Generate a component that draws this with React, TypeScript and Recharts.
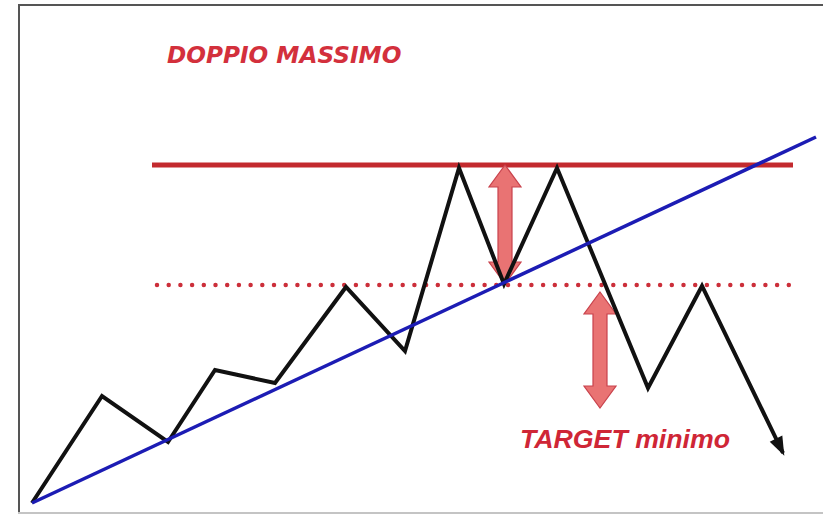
import React from "react";
import { ComposedChart, Line, XAxis, YAxis, ReferenceLine } from "recharts";

// price path (time, price)
const priceT = [3.2, 10.2, 16.8, 21.5, 27.5, 34.6, 40.5, 45.9, 50.4, 55.7, 64.8, 70.2, 78.3];
const priceV = [2.6, 24, 14.8, 29.2, 26.6, 45.8, 33, 69.6, 46.4, 69.6, 25.6, 46, 12.6];

// rising trendline
const trendT = [3.2, 81.6];
const trendV = [2.6, 75.8];

// horizontal levels
const massimo = 70.2;
const neckline = 46.2;
const massimoRange = [15.2, 79.3];
const necklineRange = [15.7, 79.6];

// measured moves: [time, from, to]
const heightMove = [50.5, 70.2, 46.4];
const targetMove = [60, 44.8, 21.6];

const W = 823;
const H = 516;

const priceData = priceT.map((t, i) => ({ t, v: priceV[i] }));
const trendData = trendT.map((t, i) => ({ t, v: trendV[i] }));
const massimoData = massimoRange.map((t) => ({ t, v: massimo }));
const necklineData = necklineRange.map((t) => ({ t, v: neckline }));

const DoubleArrow = (props: any) => {
  const { x1, y1, y2 } = props;
  const top = Math.min(y1, y2);
  const bot = Math.max(y1, y2);
  const hw = 16, hl = 22, sw = 7;
  const x = x1;
  const pts = [
    [x, top], [x + hw, top + hl], [x + sw, top + hl], [x + sw, bot - hl], [x + hw, bot - hl],
    [x, bot], [x - hw, bot - hl], [x - sw, bot - hl], [x - sw, top + hl], [x - hw, top + hl],
  ].map((p) => p.join(",")).join(" ");
  return <polygon points={pts} fill="#e97373" stroke="#c9424c" strokeWidth={1.2} />;
};

const ArrowDot = (props: any) => {
  const { cx, cy, index, points } = props;
  if (index !== priceT.length - 1 || !points || !points[index - 1]) return <g key={`d${index}`} />;
  const prev = points[index - 1];
  const a = Math.atan2(cy - prev.y, cx - prev.x);
  const len = 16, half = 7;
  const bx = cx - Math.cos(a) * len;
  const by = cy - Math.sin(a) * len;
  const px = -Math.sin(a) * half;
  const py = Math.cos(a) * half;
  const pts = `${cx + Math.cos(a) * 3},${cy + Math.sin(a) * 3} ${bx + px},${by + py} ${bx - px},${by - py}`;
  return <polygon key={`d${index}`} points={pts} fill="#111" />;
};

export default function App() {
  return (
    <div style={{ position: "absolute", left: 0, top: 0, width: W, height: H, background: "#fff" }}>
      <ComposedChart width={W} height={H} margin={{ top: 0, right: 0, bottom: 0, left: 0 }}>
        <XAxis dataKey="t" type="number" domain={[0, W / 10]} hide allowDataOverflow />
        <YAxis type="number" domain={[0, H / 5]} hide allowDataOverflow />
        <Line data={massimoData} dataKey="v" stroke="#c32a2e" strokeWidth={5} dot={false} activeDot={false}
          isAnimationActive={false} />
        <Line data={necklineData} dataKey="v" stroke="#cc2f3a" strokeWidth={4.5} strokeDasharray="0 11.7"
          strokeLinecap="round" dot={false} activeDot={false} isAnimationActive={false} />
        <ReferenceLine segment={[{ x: heightMove[0], y: heightMove[1] }, { x: heightMove[0], y: heightMove[2] }]}
          shape={DoubleArrow} />
        <ReferenceLine segment={[{ x: targetMove[0], y: targetMove[1] }, { x: targetMove[0], y: targetMove[2] }]}
          shape={DoubleArrow} />
        <Line data={priceData} dataKey="v" stroke="#111" strokeWidth={4} dot={ArrowDot} activeDot={false}
          isAnimationActive={false} />
        <Line data={trendData} dataKey="v" stroke="#1c1cb4" strokeWidth={3.5} dot={false} activeDot={false}
          isAnimationActive={false} />
      </ComposedChart>
      <svg width={W} height={H} style={{ position: "absolute", left: 0, top: 0, pointerEvents: "none" }}>
        <line x1={18} y1={5} x2={W} y2={5} stroke="#555" strokeWidth={2} />
        <line x1={19} y1={4} x2={19} y2={514} stroke="#555" strokeWidth={2} />
        <line x1={18} y1={513} x2={W} y2={513} stroke="#c4c4c4" strokeWidth={2} />
        <text x={167} y={63} fill="#d3303c" fontFamily="DejaVu Sans" fontWeight="bold" fontStyle="italic"
          fontSize={23.2}>DOPPIO MASSIMO</text>
        <text x={520} y={448} fill="#cf2636" fontFamily="Liberation Sans" fontWeight="bold" fontStyle="italic"
          fontSize={26.7}>TARGET minimo</text>
      </svg>
    </div>
  );
}
